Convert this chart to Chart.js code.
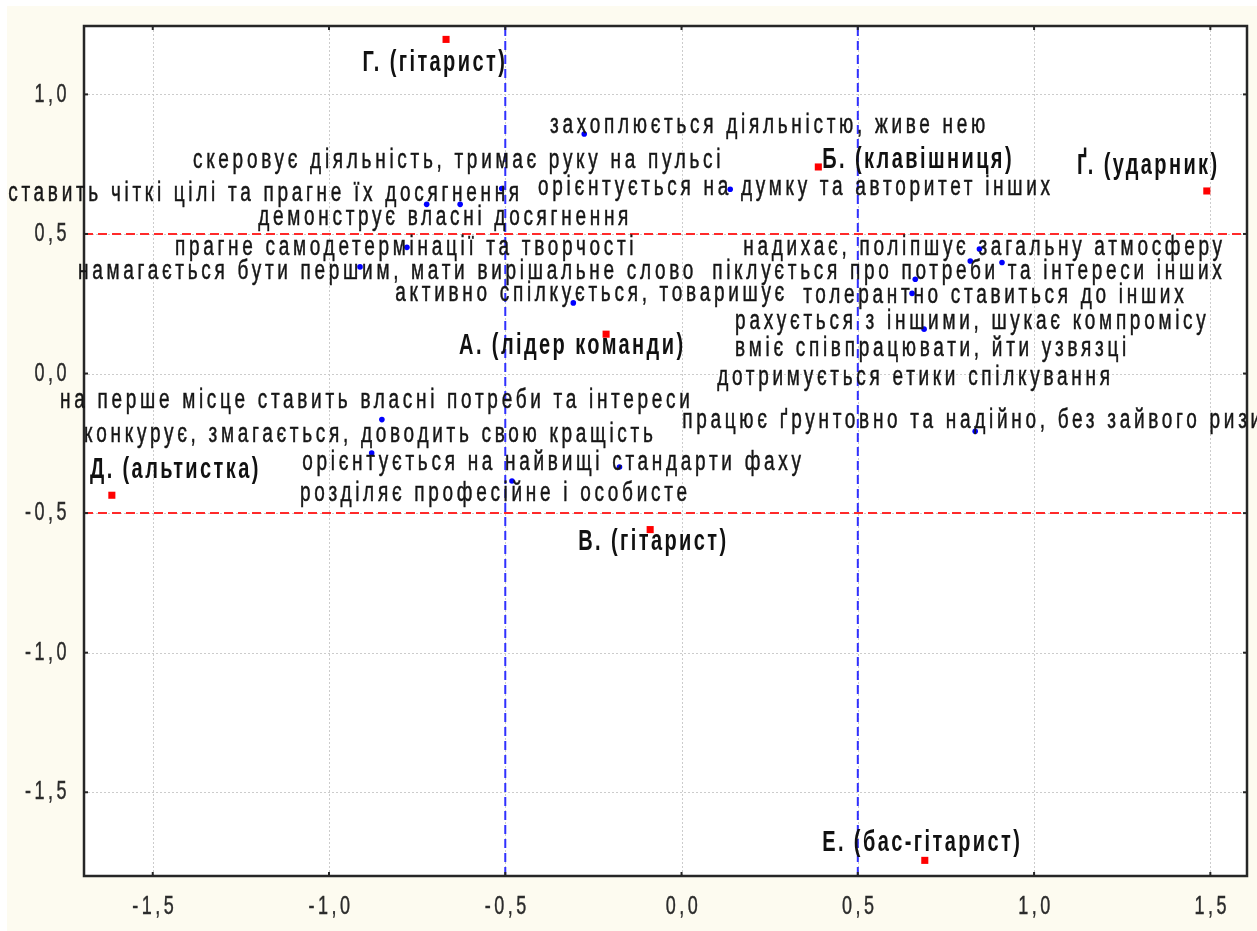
<!DOCTYPE html>
<html>
<head>
<meta charset="utf-8">
<script src="https://cdn.jsdelivr.net/npm/chart.js@4.4.1/dist/chart.umd.min.js"></script>
<style>
  html, body { margin: 0; padding: 0; background: #fff; }
  canvas { display: block; }
</style>
</head>
<body>
<canvas id="chart" width="1257" height="931"></canvas>
<script>
// --- data ---
const members = ["Г. (гітарист)", "Б. (клавішниця)", "Ґ. (ударник)", "А. (лідер команди)",
  "Д. (альтистка)", "В. (гітарист)", "Е. (бас-гітарист)"];
const memberX = [-0.668, 0.388, 1.490, -0.214, -1.616, -0.089, 0.690];
const memberY = [1.197, 0.740, 0.654, 0.141, -0.436, -0.559, -1.744];

const statements = [
  "захоплюється діяльністю, живе нею",
  "скеровує діяльність, тримає руку на пульсі",
  "ставить чіткі цілі та прагне їх досягнення",
  "демонструє власні досягнення",
  "орієнтується на думку та авторитет інших",
  "прагне самодетермінації та творчості",
  "намагається бути першим, мати вирішальне слово",
  "активно спілкується, товаришує",
  "надихає, поліпшує загальну атмосферу",
  "піклується про потреби та інтереси інших",
  "толерантно ставиться до інших",
  "рахується з іншими, шукає компромісу",
  "вміє співпрацювати, йти узвязці",
  "дотримується етики спілкування",
  "працює ґрунтовно та надійно, без зайвого ризику",
  "на перше місце ставить власні потреби та інтереси",
  "конкурує, змагається, доводить свою кращість",
  "орієнтується на найвищі стандарти фаху",
  "розділяє професійне і особисте"
];
const statementX = [-0.276, -0.723, -0.628, -0.510, 0.138, -0.779, -0.912, -0.307,
  0.845, 0.819, 0.663, 0.654, 0.909, 0.688, 0.833,
  -0.850, -0.879, -0.176, -0.481];
const statementY = [0.858, 0.606, 0.606, 0.663, 0.660, 0.452, 0.382, 0.253,
  0.446, 0.403, 0.338, 0.287, 0.398, 0.159, -0.207,
  -0.165, -0.285, -0.335, -0.385];

const cutoffs = [-0.5, 0.5];
const xTicks = [-1.5, -1.0, -0.5, 0.0, 0.5, 1.0, 1.5];
const yTicks = [1.0, 0.5, 0.0, -0.5, -1.0, -1.5];
const xTickLabels = ["-1,5", "-1,0", "-0,5", "0,0", "0,5", "1,0", "1,5"];
const yTickLabels = ["1,0", "0,5", "0,0", "-0,5", "-1,0", "-1,5"];
const X_MIN = -1.695, X_MAX = 1.604, Y_MIN = -1.80, Y_MAX = 1.245;

// where each label starts (left edge, vertical middle), in axis units
const memberLabelAt = [[-0.905, 1.112], [0.399, 0.764], [1.122, 0.743], [-0.631, 0.098],
  [-1.678, -0.347], [-0.293, -0.605], [0.399, -1.680]];
const statementLabelAt = [[-0.373, 0.890], [-1.386, 0.765], [-1.910, 0.646], [-1.201, 0.560],
  [-0.407, 0.668], [-1.437, 0.453], [-1.712, 0.367], [-0.812, 0.288],
  [0.175, 0.453], [0.087, 0.367], [0.345, 0.281], [0.152, 0.187], [0.152, 0.091],
  [0.101, -0.013], [0.002, -0.167],
  [-1.763, -0.095], [-1.695, -0.218], [-1.076, -0.318], [-1.082, -0.429]];

const STRETCH = 1.45;

const drawText = (ctx, text, x, y, font, spacing, align, heavy) => {
  ctx.save();
  ctx.translate(x, y);
  ctx.scale(1, STRETCH);
  ctx.font = font;
  ctx.letterSpacing = spacing + "px";
  ctx.textAlign = align || "left";
  ctx.textBaseline = "middle";
  ctx.fillText(text, 0, 0);
  if (heavy) {
    ctx.strokeStyle = ctx.fillStyle;
    ctx.lineWidth = heavy;
    ctx.strokeText(text, 0, 0);
  }
  ctx.restore();
};

const decor = {
  id: "decor",
  beforeDraw(chart) {
    const { ctx, width, height, chartArea: a } = chart;
    ctx.save();
    ctx.fillStyle = "#ffffff";
    ctx.fillRect(0, 0, width, height);
    ctx.fillStyle = "#fdfbf0";
    ctx.fillRect(7, 6, width - 7, height - 6);
    ctx.fillStyle = "#ffffff";
    ctx.fillRect(a.left, a.top, a.right - a.left, a.bottom - a.top);
    ctx.restore();
  },
  beforeDatasetsDraw(chart) {
    const { ctx, chartArea: a, scales: { x, y } } = chart;
    ctx.save();
    ctx.strokeStyle = "#cccccc";
    ctx.lineWidth = 1;
    ctx.setLineDash([2, 2]);
    xTicks.forEach((v) => {
      const px = Math.round(x.getPixelForValue(v)) + 0.5;
      ctx.beginPath(); ctx.moveTo(px, a.top); ctx.lineTo(px, a.bottom); ctx.stroke();
    });
    yTicks.forEach((v) => {
      const py = Math.round(y.getPixelForValue(v)) + 0.5;
      ctx.beginPath(); ctx.moveTo(a.left, py); ctx.lineTo(a.right, py); ctx.stroke();
    });
    ctx.restore();
  },
  afterDatasetsDraw(chart) {
    const { ctx, chartArea: a, scales: { x, y } } = chart;
    ctx.save();
    // frame + small tick marks
    ctx.strokeStyle = "#262626";
    ctx.lineWidth = 2.5;
    ctx.strokeRect(a.left, a.top, a.right - a.left, a.bottom - a.top);
    ctx.lineWidth = 2;
    xTicks.forEach((v) => {
      const px = x.getPixelForValue(v);
      ctx.beginPath(); ctx.moveTo(px, a.bottom); ctx.lineTo(px, a.bottom - 4); ctx.stroke();
      ctx.beginPath(); ctx.moveTo(px, a.top); ctx.lineTo(px, a.top + 4); ctx.stroke();
    });
    yTicks.forEach((v) => {
      const py = y.getPixelForValue(v);
      ctx.beginPath(); ctx.moveTo(a.left, py); ctx.lineTo(a.left + 4, py); ctx.stroke();
      ctx.beginPath(); ctx.moveTo(a.right, py); ctx.lineTo(a.right - 4, py); ctx.stroke();
    });

    // tick labels
    ctx.fillStyle = "#2b2b2b";
    const tickFont = '18px "Liberation Sans", Arial, sans-serif';
    xTicks.forEach((v, i) => {
      drawText(ctx, xTickLabels[i], x.getPixelForValue(v) + 2, a.bottom + 31, tickFont, 3.5, "center", 0.3);
    });
    yTicks.forEach((v, i) => {
      drawText(ctx, yTickLabels[i], a.left - 14, y.getPixelForValue(v), tickFont, 3.5, "right", 0.3);
    });

    // statement labels
    ctx.fillStyle = "#161616";
    const textFont = '19px "Liberation Sans", Arial, sans-serif';
    statements.forEach((s, i) => {
      const [lx, ly] = statementLabelAt[i];
      drawText(ctx, s, x.getPixelForValue(lx), y.getPixelForValue(ly), textFont, 3.7, "left", 0.35);
    });

    // member labels
    ctx.fillStyle = "#111111";
    const boldFont = 'bold 20px "Liberation Sans", Arial, sans-serif';
    members.forEach((m, i) => {
      const [lx, ly] = memberLabelAt[i];
      drawText(ctx, m, x.getPixelForValue(lx), y.getPixelForValue(ly), boldFont, 2.4);
    });
    ctx.restore();
  }
};

const refLines = [];
cutoffs.forEach((c) => {
  refLines.push({
    data: [{ x: X_MIN, y: c }, { x: X_MAX, y: c }],
    showLine: true, borderColor: "#ff2a2a", borderWidth: 2, borderDash: [9, 5],
    pointRadius: 0, order: 5
  });
  refLines.push({
    data: [{ x: c, y: Y_MIN }, { x: c, y: Y_MAX }],
    showLine: true, borderColor: "#3030ff", borderWidth: 2, borderDash: [9, 5],
    pointRadius: 0, order: 5
  });
});

new Chart(document.getElementById("chart"), {
  type: "scatter",
  data: {
    datasets: [
      ...refLines,
      {
        label: "statements",
        data: statementX.map((v, i) => ({ x: v, y: statementY[i] })),
        backgroundColor: "#0000ff",
        borderWidth: 0,
        pointRadius: 2.8,
        order: 2
      },
      {
        label: "members",
        data: memberX.map((v, i) => ({ x: v, y: memberY[i] })),
        backgroundColor: "#ff0000",
        borderWidth: 0,
        pointStyle: "rect",
        pointRadius: 5,
        order: 1
      }
    ]
  },
  options: {
    responsive: false,
    animation: false,
    layout: { padding: { left: 84, top: 26, right: 10, bottom: 55 } },
    plugins: { legend: { display: false }, tooltip: { enabled: false } },
    scales: {
      x: { type: "linear", display: false, min: X_MIN, max: X_MAX },
      y: { type: "linear", display: false, min: Y_MIN, max: Y_MAX }
    }
  },
  plugins: [decor]
});
</script>
</body>
</html>
